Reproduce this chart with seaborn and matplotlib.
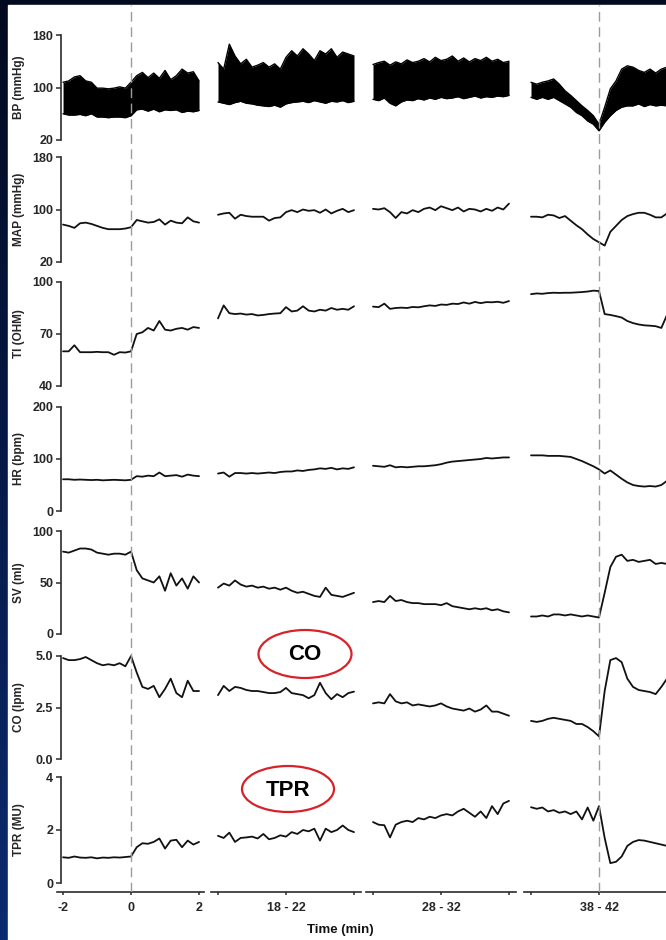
import numpy as np
import pandas as pd
import matplotlib
matplotlib.use("Agg")
import matplotlib.pyplot as plt
import seaborn as sns
from matplotlib.patches import Ellipse, Rectangle
from matplotlib.colors import LinearSegmentedColormap

sns.set_theme(style="white")
plt.rcParams["font.family"] = ["Liberation Sans", "DejaVu Sans"]
plt.rcParams["font.weight"] = "bold"

# ---------------- data ----------------
time_windows = [(-2, 2), (18, 22), (28, 32), (38, 42)]
n_pts = 25
window_labels = ["", "18 - 22", "28 - 32", "38 - 42"]
row_labels = ["BP (mmHg)", "MAP (mmHg)", "TI (OHM)", "HR (bpm)", "SV (ml)", "CO (lpm)", "TPR (MU)"]
row_ticks = [[20, 100, 180], [20, 100, 180], [40, 70, 100], [0, 100, 200],
             [0, 50, 100], [0, 2.5, 5.0], [0, 2, 4]]
row_ticklabels = [["20", "100", "180"], ["20", "100", "180"], ["40", "70", "100"],
                  ["0", "100", "200"], ["0", "50", "100"], ["0.0", "2.5", "5.0"],
                  ["0", "2", "4"]]

bp_upper = [
    [108, 110, 116, 118, 110, 108, 99, 99, 98, 99, 101, 99, 108, 118, 123, 115, 122, 114, 126, 112, 118, 128, 122, 124, 110],
    [138, 128, 166, 148, 136, 143, 131, 134, 138, 131, 136, 128, 146, 156, 148, 159, 151, 141, 156, 151, 159, 146, 154, 151, 148],
    [135, 138, 140, 134, 139, 136, 142, 138, 140, 144, 139, 146, 141, 143, 148, 140, 145, 139, 144, 141, 146, 140, 143, 138, 140],
    [108, 105, 108, 110, 113, 105, 95, 88, 80, 72, 65, 57, 44, 70, 98, 110, 128, 133, 131, 126, 123, 128, 122, 128, 131],
]
bp_lower = [
    [60, 58, 58, 59, 57, 60, 55, 55, 54, 55, 55, 54, 57, 66, 67, 64, 67, 63, 66, 65, 66, 62, 64, 63, 65],
    [78, 76, 74, 77, 79, 76, 75, 73, 72, 71, 73, 70, 75, 77, 78, 79, 77, 80, 78, 76, 79, 78, 80, 77, 79],
    [82, 80, 84, 76, 72, 78, 81, 80, 83, 81, 84, 82, 85, 83, 84, 86, 83, 85, 87, 84, 86, 85, 87, 86, 88],
    [85, 82, 85, 82, 85, 80, 75, 70, 62, 57, 49, 44, 34, 47, 57, 65, 70, 72, 72, 75, 71, 74, 72, 73, 72],
]
map_vals = [
    [77, 75, 72, 79, 80, 78, 75, 72, 70, 70, 70, 71, 73, 84, 82, 80, 81, 85, 77, 83, 80, 79, 88, 82, 80],
    [92, 94, 95, 86, 92, 90, 89, 89, 89, 83, 87, 88, 96, 99, 96, 100, 98, 99, 95, 100, 94, 98, 101, 96, 99],
    [101, 100, 102, 96, 87, 96, 94, 99, 96, 101, 103, 99, 105, 102, 99, 103, 97, 101, 100, 97, 101, 98, 103, 100, 109],
    [89, 89, 88, 92, 91, 87, 90, 83, 76, 70, 62, 55, 50, 45, 66, 75, 84, 90, 93, 95, 95, 92, 88, 88, 94],
]
ti_vals = [
    [60, 60, 63.5, 59.5, 59.5, 59.5, 59.7, 59.5, 59.5, 58, 59.5, 59.3, 60, 70, 71, 73.5, 72, 77.5, 72.5, 72, 73, 73.5, 72.5, 74, 73.5],
    [79, 86.5, 82, 81.5, 81.8, 81.2, 81.5, 80.7, 81, 81.5, 81.8, 82, 85.5, 83, 83.5, 86, 83.5, 83, 84, 83.5, 85, 84, 84.5, 84, 86],
    [85.8, 85.5, 87.5, 84.5, 85, 85.2, 85, 85.6, 85.4, 86, 86.5, 86.2, 87, 86.8, 87.5, 87.3, 88.2, 87.5, 88.5, 87.8, 88.4, 88.3, 88.6, 88, 89],
    [93, 93.4, 93.2, 93.6, 93.8, 93.7, 93.8, 93.8, 94, 94.2, 94.5, 95, 94.8, 81.5, 81, 80.3, 79.5, 77.5, 76.3, 75.5, 75, 74.8, 74.5, 73.5, 81],
]
hr_vals = [
    [61, 61, 60, 60.5, 60, 59.5, 60, 59, 59.5, 60, 59.5, 59, 60, 67, 66, 68, 67, 74, 67, 68, 69, 66, 70, 68, 67],
    [72, 74, 66, 73, 73, 72, 73, 72, 73, 74, 73, 75, 76, 76, 78, 77, 79, 80, 82, 81, 83, 80, 82, 81, 84],
    [87, 86, 85, 88, 84, 85, 84, 85, 86, 86, 87, 88, 90, 93, 95, 96, 97, 98, 99, 100, 102, 101, 102, 103, 103],
    [107, 107, 107, 106, 106, 106, 105, 104, 100, 96, 91, 86, 80, 72, 78, 70, 62, 55, 50, 48, 47, 48, 47, 50, 58],
]
sv_vals = [
    [80, 79, 81, 83, 83, 82, 79, 78, 77, 78, 78, 77, 80, 62, 54, 52, 50, 56, 42, 59, 47, 54, 44, 56, 50],
    [45, 49, 47, 52, 48, 46, 47, 45, 46, 44, 45, 43, 45, 42, 40, 41, 39, 37, 36, 45, 38, 37, 36, 38, 40],
    [31, 32, 31, 37, 32, 33, 31, 30, 30, 29, 29, 29, 28, 30, 27, 26, 25, 24, 25, 24, 25, 23, 24, 22, 21],
    [17, 17, 18, 17, 19, 19, 18, 19, 18, 17, 18, 17, 16, 40, 65, 75, 77, 71, 72, 70, 71, 72, 68, 69, 68],
]
co_vals = [
    [4.9, 4.8, 4.8, 4.85, 4.95, 4.8, 4.65, 4.55, 4.6, 4.55, 4.65, 4.5, 5.0, 4.2, 3.5, 3.4, 3.55, 3.0, 3.4, 3.9, 3.2, 3.0, 3.8, 3.3, 3.3],
    [3.1, 3.55, 3.3, 3.5, 3.45, 3.35, 3.3, 3.3, 3.25, 3.2, 3.2, 3.25, 3.45, 3.2, 3.15, 3.1, 2.95, 3.1, 3.7, 3.2, 2.9, 3.15, 3.0, 3.2, 3.27],
    [2.7, 2.75, 2.7, 3.15, 2.8, 2.7, 2.75, 2.6, 2.65, 2.6, 2.55, 2.6, 2.7, 2.55, 2.45, 2.4, 2.35, 2.45, 2.3, 2.4, 2.6, 2.3, 2.3, 2.2, 2.1],
    [1.85, 1.8, 1.85, 1.95, 2.0, 1.95, 1.9, 1.85, 1.7, 1.7, 1.55, 1.35, 1.1, 3.3, 4.8, 4.9, 4.7, 3.9, 3.5, 3.35, 3.3, 3.25, 3.15, 3.5, 3.9],
]
tpr_vals = [
    [0.97, 0.95, 1.0, 0.96, 0.95, 0.97, 0.93, 0.96, 0.95, 0.97, 0.96, 0.98, 1.0, 1.35, 1.5, 1.48, 1.55, 1.68, 1.3, 1.6, 1.63, 1.35, 1.6, 1.45, 1.55],
    [1.78, 1.7, 1.9, 1.55, 1.7, 1.72, 1.75, 1.68, 1.85, 1.65, 1.7, 1.8, 1.75, 1.92, 1.85, 2.0, 1.95, 2.05, 1.6, 2.05, 1.92, 2.0, 2.17, 2.0, 1.92],
    [2.3, 2.2, 2.18, 1.72, 2.2, 2.3, 2.35, 2.3, 2.45, 2.4, 2.5, 2.45, 2.55, 2.6, 2.55, 2.7, 2.8, 2.65, 2.5, 2.7, 2.45, 2.9, 2.6, 3.0, 3.1],
    [2.86, 2.8, 2.85, 2.7, 2.75, 2.65, 2.7, 2.6, 2.7, 2.4, 2.85, 2.35, 2.9, 1.7, 0.75, 0.8, 1.0, 1.4, 1.55, 1.62, 1.6, 1.55, 1.5, 1.45, 1.4],
]
line_series = [None, map_vals, ti_vals, hr_vals, sv_vals, co_vals, tpr_vals]
event_times = [0, 40]

# ---------------- layout ----------------
W, H = 666, 940
fig = plt.figure(figsize=(W / 100, H / 100), dpi=100)

def fx(px):
    return px / W

def fy(py):
    return 1 - py / H

# background: dark navy frame with white panel
bg = fig.add_axes([0, 0, 1, 1])
bg.axis("off")
cmap = LinearSegmentedColormap.from_list("navy", ["#020a1f", "#061a48", "#0b2b70"])
bg.imshow(np.linspace(0, 1, 256).reshape(-1, 1), cmap=cmap, aspect="auto",
          extent=[0, 1, 0, 1], origin="upper")
bg.add_patch(Rectangle((8 / W, 0), 1, 1 - 5 / H, color="white", zorder=2))
bg.set_xlim(0, 1)
bg.set_ylim(0, 1)

col_xlim = [(-2.06, 2.15), (17.8, 22.2), (27.8, 32.2), (37.8, 42.6)]
col_left_px = [61.0, 211.2, 366.2, 524.2]
px_per_min = 34.0
row_top_px = [35, 157, 282, 407, 531, 656, 777]
row_bot_px = [140, 262, 386, 511, 634, 759, 883]

spine_col = "#2b2b2b"
fs_tick = 9
for r in range(7):
    for c in range(4):
        lo, hi = col_xlim[c]
        wpx = (hi - lo) * px_per_min
        ax = fig.add_axes([fx(col_left_px[c]), fy(row_bot_px[r]), fx(wpx),
                           (row_bot_px[r] - row_top_px[r]) / H])
        ax.set_facecolor("none")
        t0, t1 = time_windows[c]
        t = np.linspace(t0, t1, n_pts)
        if r == 0:
            ax.fill_between(t, bp_lower[c], bp_upper[c], color="black", lw=0, zorder=3)
            df_u = pd.DataFrame({"t": t, "v": bp_upper[c]})
            df_l = pd.DataFrame({"t": t, "v": bp_lower[c]})
            sns.lineplot(data=df_u, x="t", y="v", ax=ax, color="black", lw=1.0)
            sns.lineplot(data=df_l, x="t", y="v", ax=ax, color="black", lw=1.0)
        else:
            df = pd.DataFrame({"t": t, "v": line_series[r][c]})
            sns.lineplot(data=df, x="t", y="v", ax=ax, color="#111111", lw=1.3)
        for ln in ax.lines:
            ln.set_clip_on(False)
        ax.set_xlim(lo, hi)
        ymin, ymax = row_ticks[r][0], row_ticks[r][-1]
        ax.set_ylim(ymin, ymax)
        ax.set_xlabel("")
        ax.set_ylabel("")
        for s in ["top", "right"]:
            ax.spines[s].set_visible(False)
        if c == 0:
            ax.spines["left"].set_color(spine_col)
            ax.spines["left"].set_linewidth(1.2)
            ax.spines["left"].set_bounds(ymin, ymax)
            ax.set_yticks(row_ticks[r])
            ax.set_yticklabels(row_ticklabels[r], fontsize=fs_tick, fontweight="bold")
            ax.tick_params(axis="y", direction="out", length=3.5, width=1.1,
                           color=spine_col, pad=2, left=True)
            ax.set_ylabel(row_labels[r], fontsize=8.5, fontweight="bold")
            ax.yaxis.set_label_coords((25 - col_left_px[0]) / wpx, 0.5)
        else:
            ax.spines["left"].set_visible(False)
            ax.set_yticks([])
        if r == 6:
            ax.spines["bottom"].set_position(("outward", 6.5))
            ax.spines["bottom"].set_color(spine_col)
            ax.spines["bottom"].set_linewidth(1.2)
            ax.spines["bottom"].set_bounds(lo - 0.13 if c == 0 else lo, hi)
            if c == 0:
                ax.set_xticks([-2, 0, 2])
                ax.set_xticklabels(["-2", "0", "2"], fontsize=fs_tick, fontweight="bold")
            else:
                ax.set_xticks([t0, (t0 + t1) / 2, t1])
                ax.set_xticklabels(["", window_labels[c], ""], fontsize=fs_tick,
                                   fontweight="bold")
            ax.tick_params(axis="x", direction="out", length=2.5, width=1.1,
                           color=spine_col, pad=5, bottom=True)
        else:
            ax.spines["bottom"].set_visible(False)
            ax.set_xticks([])

# dashed event lines spanning all rows
for c, te in zip([0, 3], event_times):
    lo, hi = col_xlim[c]
    ov = fig.add_axes([fx(col_left_px[c]), fy(892), fx((hi - lo) * px_per_min), (892 - 5) / H])
    ov.set_facecolor("none")
    ov.axis("off")
    ov.set_xlim(lo, hi)
    ov.set_ylim(0, 1)
    ov.axvline(te, color="#9c9c9c", lw=1.0, dashes=(7, 4), zorder=0)

fig.text(fx(340), fy(930), "Time (min)", ha="center", va="center",
         fontsize=9.5, fontweight="bold", color="#111111")

# annotations: red ellipses with labels
top = fig.add_axes([0, 0, 1, 1])
top.set_facecolor("none")
top.axis("off")
top.set_xlim(0, W)
top.set_ylim(H, 0)
for (cx, cy, w, h, txt) in [(305, 654, 93, 48, "CO"), (288, 789, 92, 46, "TPR")]:
    top.add_patch(Ellipse((cx, cy), w, h, fill=False, edgecolor="#d8222a", lw=1.6))
    top.text(cx, cy + 1, txt, ha="center", va="center", fontsize=16,
             fontweight="bold", color="black")

fig.savefig("out.png", dpi=100)
